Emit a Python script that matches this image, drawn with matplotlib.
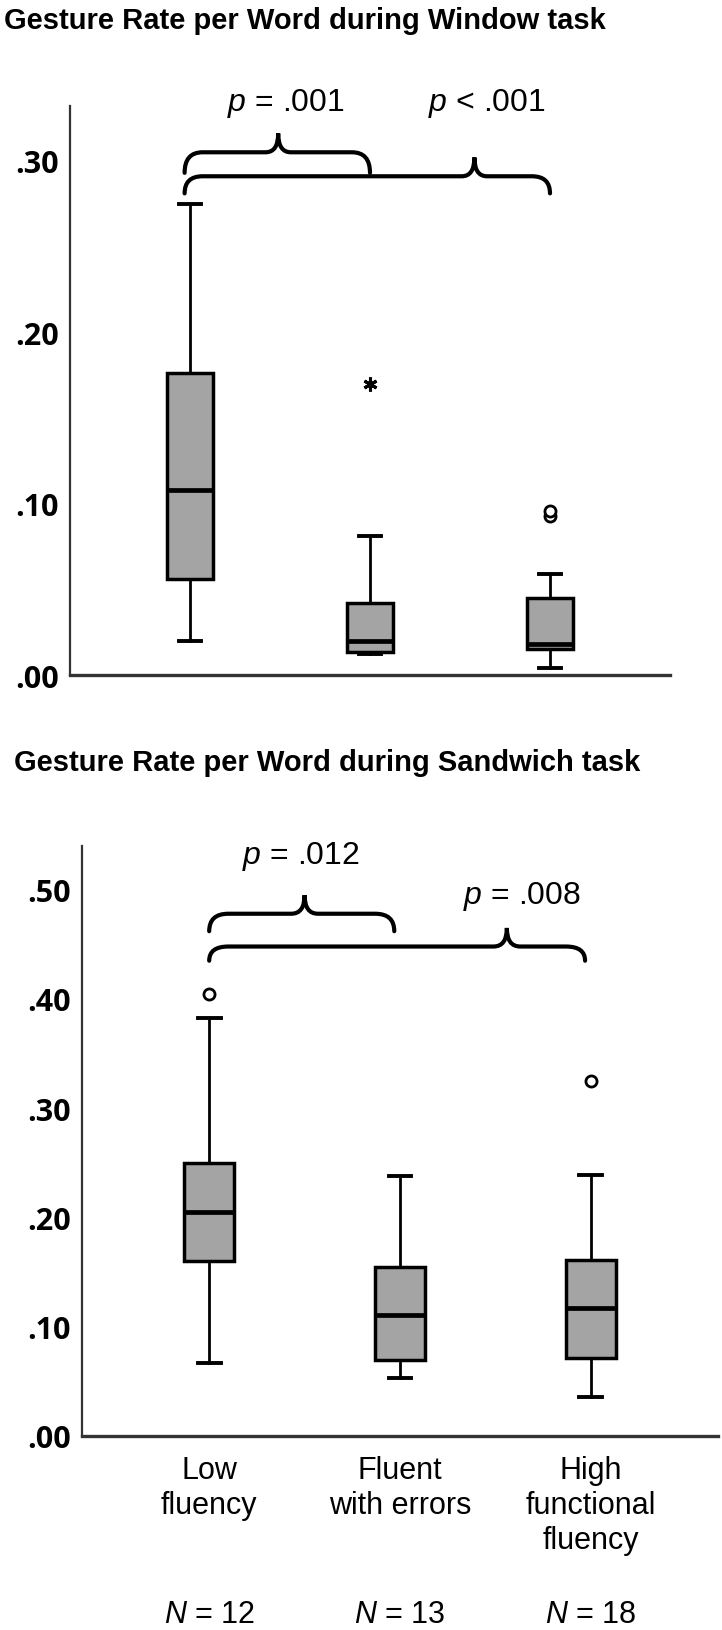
import matplotlib
matplotlib.use('Agg')
import matplotlib.pyplot as plt
from matplotlib.path import Path
from matplotlib.patches import PathPatch

plt.rcParams['mathtext.fontset'] = 'custom'
plt.rcParams['mathtext.it'] = 'Liberation Sans:italic'
plt.rcParams['mathtext.rm'] = 'Liberation Sans'

groups = ['Low\nfluency', 'Fluent\nwith errors', 'High\nfunctional\nfluency']
n_labels = ['12', '13', '18']

# window task: whislo, q1, median, q3, whishi
win_low = [0.020, 0.056, 0.108, 0.176, 0.275]
win_err = [0.012, 0.0136, 0.020, 0.042, 0.081]
win_high = [0.004, 0.015, 0.018, 0.045, 0.059]
win_fliers = [[], [0.170], [0.093, 0.0955]]

# sandwich task
sand_low = [0.067, 0.160, 0.205, 0.250, 0.383]
sand_err = [0.053, 0.070, 0.111, 0.155, 0.238]
sand_high = [0.036, 0.071, 0.117, 0.161, 0.239]
sand_fliers = [[0.405], [], [0.325]]

win_p = ['$p$ = .001', '$p$ < .001']
sand_p = ['$p$ = .012', '$p$ = .008']

win_ticks = [0.0, 0.1, 0.2, 0.3]
sand_ticks = [0.0, 0.1, 0.2, 0.3, 0.4, 0.5]

GRAY = '#a4a4a4'


def make_stats(rows, fliers):
    stats = []
    for r, f in zip(rows, fliers):
        stats.append(dict(whislo=r[0], q1=r[1], med=r[2], q3=r[3], whishi=r[4], fliers=f))
    return stats


def brace(ax, x0, x1, xm, y_end, y_line, y_tip, rx=0.1):
    verts = [(x0, y_end), (x0, y_line), (x0 + rx, y_line),
             (xm - rx * 0.7, y_line),
             (xm, y_line), (xm, y_tip),
             (xm, y_line), (xm + rx * 0.7, y_line),
             (x1 - rx, y_line),
             (x1, y_line), (x1, y_end)]
    codes = [Path.MOVETO, Path.CURVE3, Path.CURVE3, Path.LINETO,
             Path.CURVE3, Path.CURVE3, Path.CURVE3, Path.CURVE3,
             Path.LINETO, Path.CURVE3, Path.CURVE3]
    ax.add_patch(PathPatch(Path(verts, codes), fill=False, lw=3,
                           edgecolor='black', clip_on=False, capstyle='round'))


def draw_box(ax, stats, flier_markers, ymax, ticks):
    ax.bxp(stats, positions=[1, 2, 3], widths=0.26, patch_artist=True,
           showfliers=False,
           boxprops=dict(facecolor=GRAY, edgecolor='black', lw=2.5),
           medianprops=dict(color='black', lw=3.4),
           whiskerprops=dict(color='black', lw=2),
           capprops=dict(color='black', lw=2.8), capwidths=0.12)
    for i, s in enumerate(stats):
        for v in s['fliers']:
            m = flier_markers[i]
            if m == '*':
                ax.plot(i + 1, v, marker=(6, 2, 0), ms=10, mew=2.2,
                        color='black', clip_on=False)
            else:
                ax.plot(i + 1, v, 'o', ms=8, mfc='white', mec='black',
                        mew=2, clip_on=False)
    ax.set_xlim(1 / 3, 11 / 3)
    ax.set_ylim(0, ymax)
    ax.set_yticks(ticks)
    ax.set_yticklabels(['.%02d' % round(t * 100) for t in ticks],
                       fontsize=22, fontweight='bold', family='Open Sans')
    ax.tick_params(axis='y', length=0, pad=8)
    for s in ['top', 'right']:
        ax.spines[s].set_visible(False)
    ax.spines['left'].set_color('#333333')
    ax.spines['left'].set_linewidth(1.6)
    ax.spines['bottom'].set_color('#333333')
    ax.spines['bottom'].set_linewidth(2.4)


fig = plt.figure(figsize=(7.22, 16.31), dpi=100)

ax1 = fig.add_axes([70 / 722, 1 - 676 / 1631, 600 / 722, 569 / 1631])
draw_box(ax1, make_stats([win_low, win_err, win_high], win_fliers),
         ['o', '*', 'o'], 0.332, win_ticks)
ax1.set_xticks([])
brace(ax1, 0.97, 2.0, 1.49, 0.293, 0.305, 0.316, rx=0.1)
brace(ax1, 0.97, 3.0, 2.58, 0.281, 0.291, 0.302, rx=0.1)
ax1.text(1.53, 0.334, win_p[0], ha='center', va='center', fontsize=23,
         family='Liberation Sans')
ax1.text(2.65, 0.334, win_p[1], ha='center', va='center', fontsize=23,
         family='Liberation Sans')
fig.text(4 / 722, 1 - 21 / 1631, 'Gesture Rate per Word during Window task',
         ha='left', va='center', fontsize=21, fontweight='bold',
         family='Liberation Sans')

ax2 = fig.add_axes([82 / 722, 1 - 1437 / 1631, 636 / 722, 590 / 1631])
draw_box(ax2, make_stats([sand_low, sand_err, sand_high], sand_fliers),
         ['o', 'o', 'o'], 0.540, sand_ticks)
ax2.set_xticks([1, 2, 3])
ax2.set_xticklabels(groups, fontsize=22, family='Liberation Sans',
                    va='top', linespacing=1.2)
ax2.tick_params(axis='x', length=0, pad=14)
brace(ax2, 1.0, 1.97, 1.5, 0.462, 0.478, 0.495, rx=0.1)
brace(ax2, 1.0, 2.97, 2.56, 0.435, 0.448, 0.465, rx=0.1)
ax2.text(1.48, 0.531, sand_p[0], ha='center', va='center', fontsize=23,
         family='Liberation Sans')
ax2.text(2.64, 0.495, sand_p[1], ha='center', va='center', fontsize=23,
         family='Liberation Sans')
for i, n in enumerate(n_labels):
    ax2.text(i + 1, -0.163, '$N$ = ' + n, ha='center', va='center',
             fontsize=22, family='Liberation Sans', clip_on=False)
fig.text(14 / 722, 1 - 763 / 1631, 'Gesture Rate per Word during Sandwich task',
         ha='left', va='center', fontsize=21, fontweight='bold',
         family='Liberation Sans')

fig.savefig('out.png', dpi=100)
